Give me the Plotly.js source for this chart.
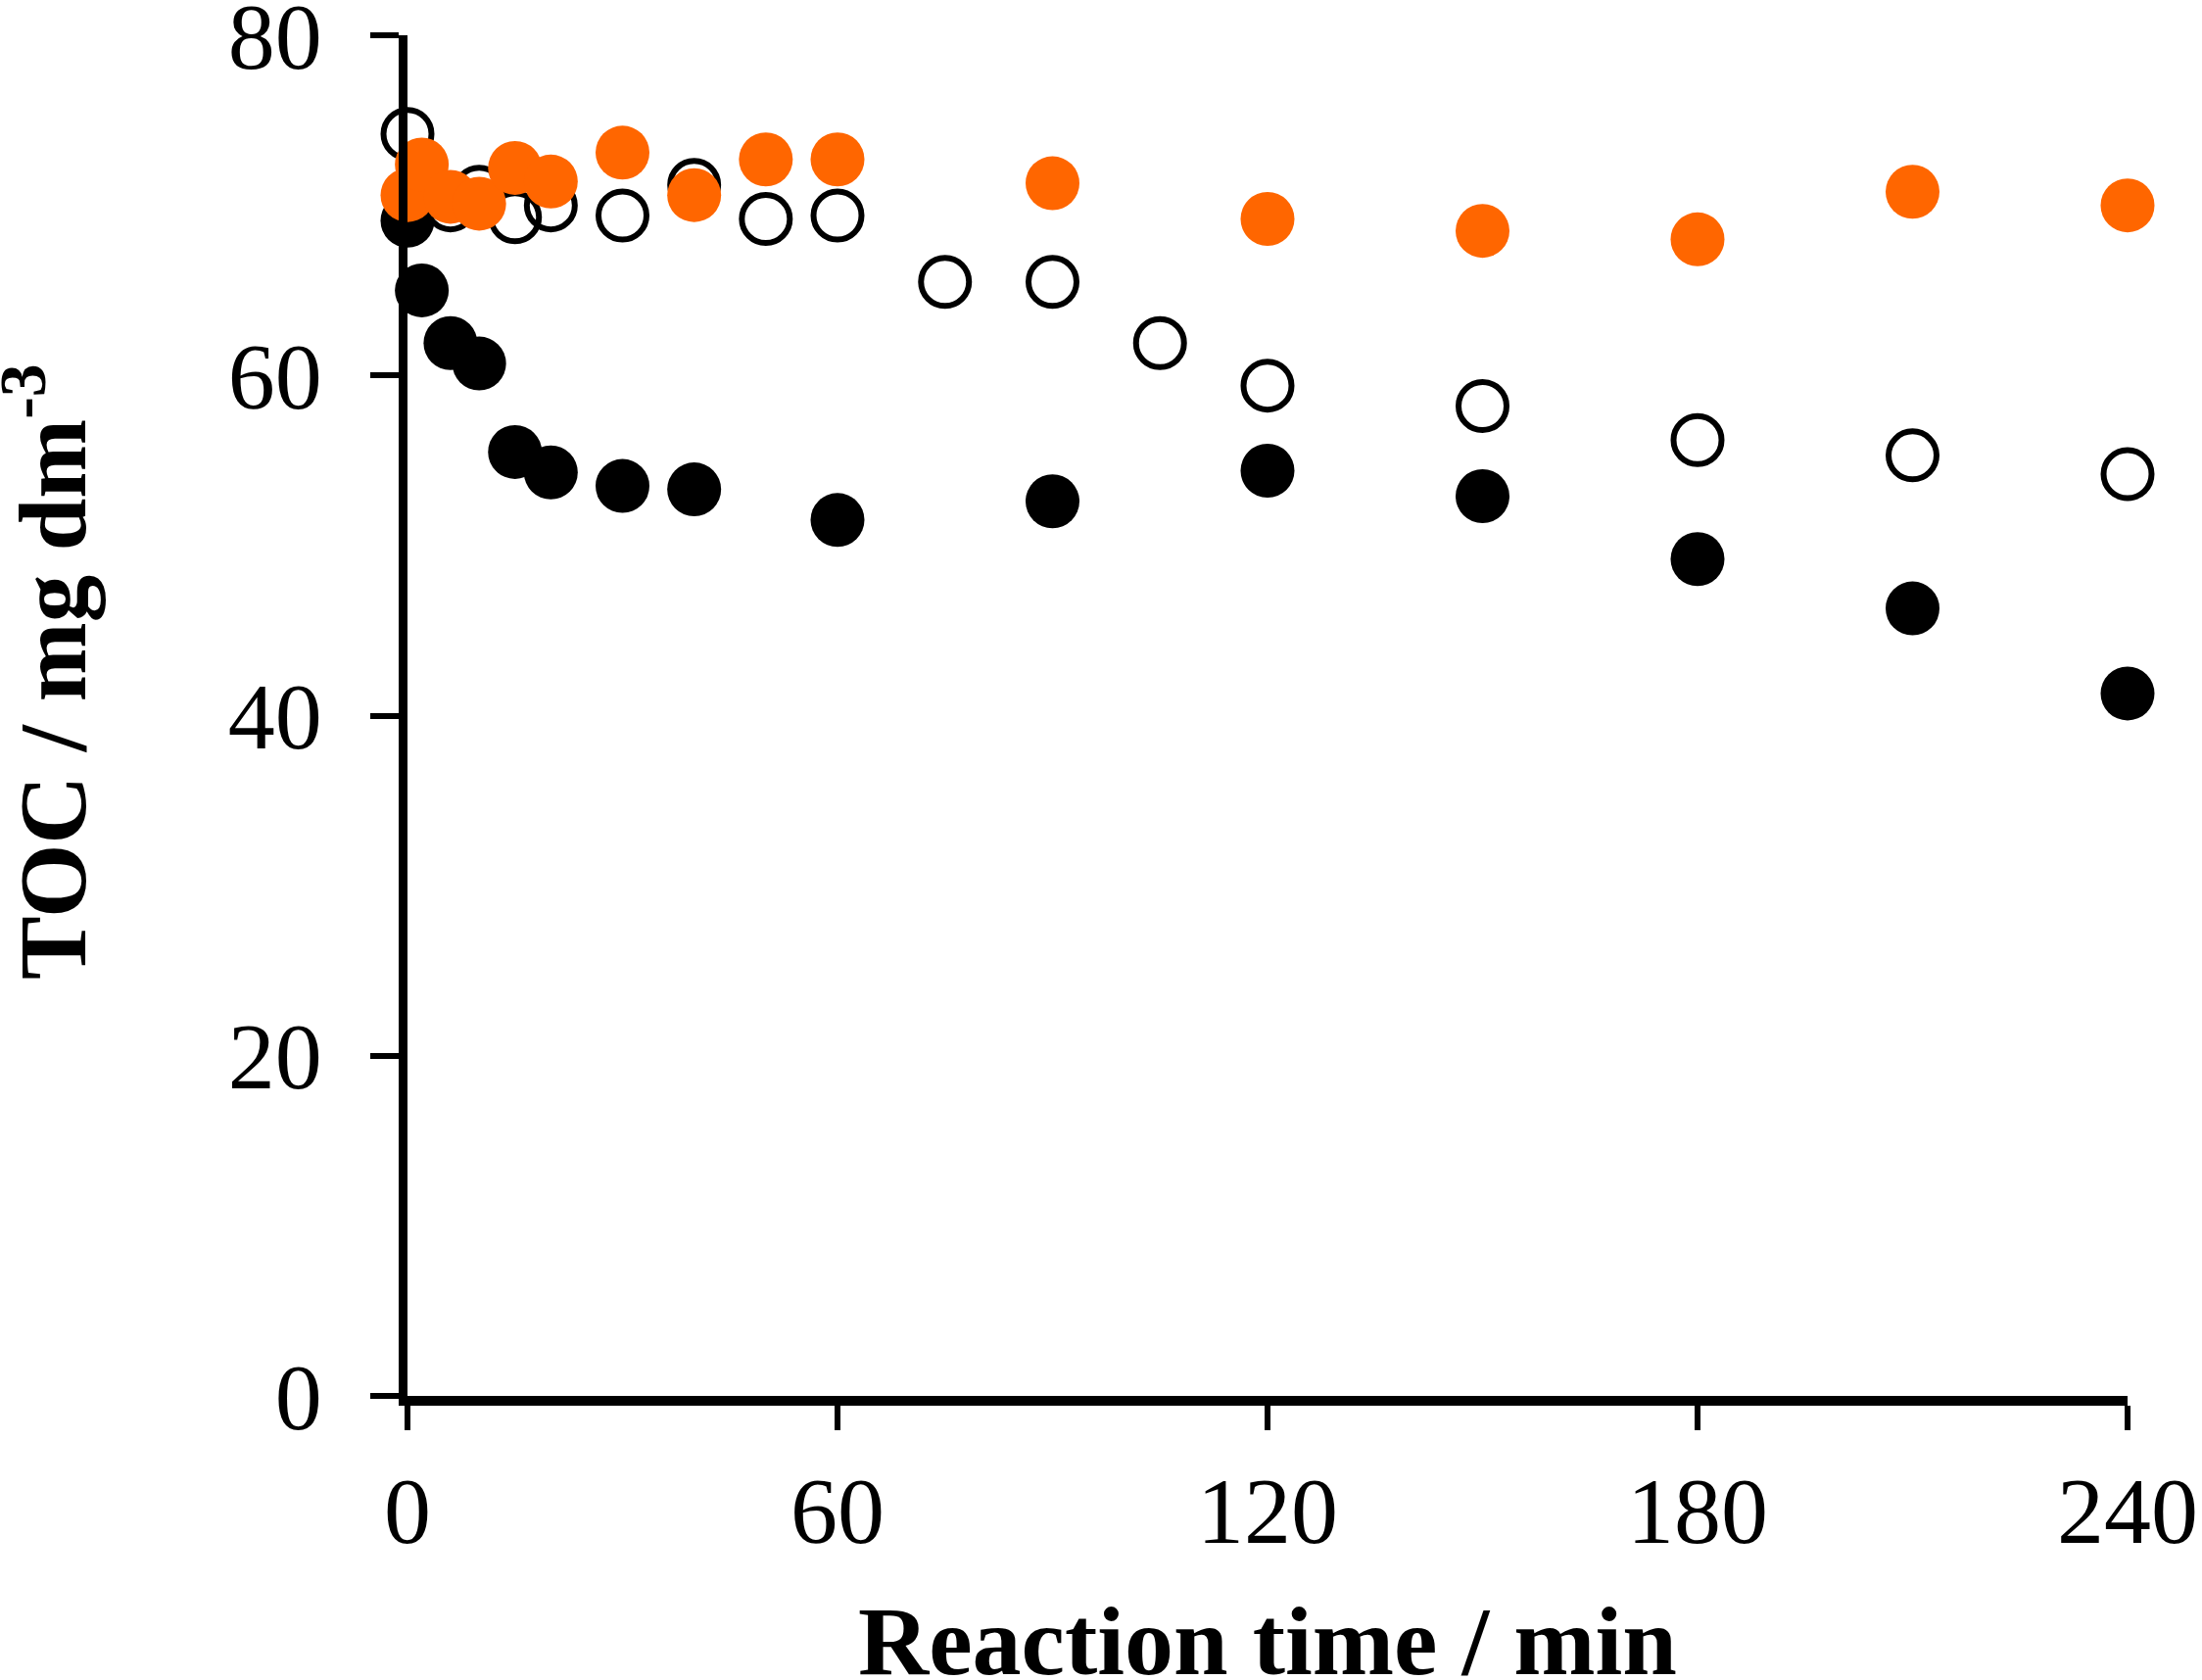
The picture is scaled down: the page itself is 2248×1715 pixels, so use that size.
<!DOCTYPE html>
<html>
<head>
<meta charset="utf-8">
<script src="https://cdn.plot.ly/plotly-3.0.1.min.js"></script>
<style>
  body { margin: 0; background: #fff; }
  #chart { width: 2248px; height: 1715px; }
</style>
</head>
<body>
<div id="chart"></div>
<script>
// reaction time (min) and TOC (mg dm-3)
var tFilled = [0, 2, 6, 10, 15, 20, 30, 40, 60, 90, 120, 150, 180, 210, 240];
var tocFilled = [69.1, 65.0, 61.9, 60.7, 55.5, 54.3, 53.5, 53.3, 51.5, 52.6, 54.4, 52.9, 49.2, 46.3, 41.3];

var tOpen = [0, 6, 10, 15, 20, 30, 40, 50, 60, 75, 90, 105, 120, 150, 180, 210, 240];
var tocOpen = [74.2, 70.0, 70.8, 69.3, 70.0, 69.4, 71.2, 69.2, 69.4, 65.5, 65.5, 61.9, 59.4, 58.2, 56.2, 55.3, 54.2];

var tOrange = [0, 2, 6, 10, 15, 20, 30, 40, 50, 60, 90, 120, 150, 180, 210, 240];
var tocOrange = [70.6, 72.4, 70.5, 70.1, 72.2, 71.4, 73.1, 70.6, 72.7, 72.7, 71.3, 69.2, 68.5, 68.0, 70.8, 70.0];

var xTicks = [0, 60, 120, 180, 240];
var yTicks = [0, 20, 40, 60, 80];

var serif = 'Liberation Serif, Times New Roman, serif';

var data = [
	{
		x : tFilled,
		y : tocFilled,
		type : 'scatter',
		mode : 'markers',
		cliponaxis : false,
		marker : { symbol : 'circle', size : 55, color : '#000000' }
	},
	{
		x : tOpen,
		y : tocOpen,
		type : 'scatter',
		mode : 'markers',
		cliponaxis : false,
		marker : { symbol : 'circle-open', size : 49, color : '#000000', line : { width : 6, color : '#000000' } }
	},
	{
		x : tOrange,
		y : tocOrange,
		type : 'scatter',
		mode : 'markers',
		cliponaxis : false,
		marker : { symbol : 'circle', size : 55, color : '#FF6600' }
	}
];

var layout = {
	width : 2248,
	height : 1715,
	showlegend : false,
	paper_bgcolor : '#ffffff',
	plot_bgcolor : '#ffffff',
	margin : { l : 416, r : 76, t : 36, b : 290 },
	font : { family : serif, size : 96, color : '#000000' },
	xaxis : {
		range : [0, 240],
		tickvals : xTicks,
		ticktext : xTicks.map(String),
		showgrid : false,
		zeroline : false,
		showline : true,
		linewidth : 10,
		linecolor : '#000000',
		ticks : 'outside',
		ticklen : 25,
		tickwidth : 6,
		tickcolor : '#000000',
		tickfont : { family : serif, size : 96 },
		ticklabelstandoff : 0,
		ticklabeloverflow : 'allow'
	},
	yaxis : {
		range : [0, 80],
		tickvals : yTicks,
		ticktext : yTicks.map(String),
		showgrid : false,
		zeroline : false,
		showline : true,
		linewidth : 9,
		linecolor : '#000000',
		ticks : 'outside',
		ticklen : 29,
		tickwidth : 6,
		tickcolor : '#000000',
		tickfont : { family : serif, size : 96 },
		ticklabelstandoff : 30,
		ticklabeloverflow : 'allow'
	},
	annotations : [
		{
			text : '<b>Reaction time / min</b>',
			font : { family : serif, size : 100 },
			showarrow : false,
			xref : 'paper',
			yref : 'paper',
			x : 0.5,
			y : 0,
			xanchor : 'center',
			yanchor : 'middle',
			yshift : -250
		},
		{
			text : '<b>TOC / mg dm<sup>-3</sup></b>',
			font : { family : serif, size : 97 },
			textangle : -90,
			showarrow : false,
			xref : 'paper',
			yref : 'paper',
			x : 0,
			y : 0.532,
			xanchor : 'center',
			yanchor : 'middle',
			xshift : -370
		}
	]
};

Plotly.newPlot('chart', data, layout, { displayModeBar : false, staticPlot : true });
</script>
</body>
</html>
